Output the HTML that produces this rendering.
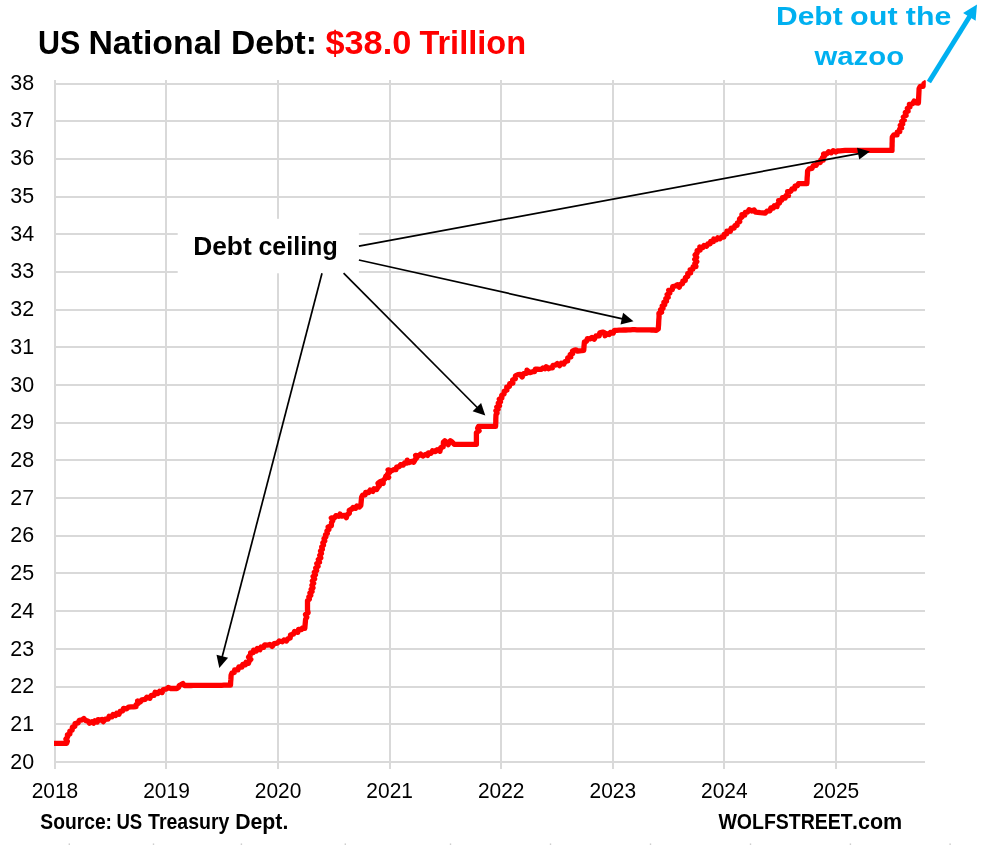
<!DOCTYPE html>
<html lang="en"><head><meta charset="utf-8"><title>US National Debt</title>
<style>
html,body{margin:0;padding:0;background:#fff;}
body{width:993px;height:845px;overflow:hidden;}
svg{display:block;}
text{font-family:"Liberation Sans",sans-serif;}
.ax{fill:#000;}
.b{font-weight:bold;}
</style></head><body>
<svg width="993" height="845" viewBox="0 0 993 845">
<rect width="993" height="845" fill="#fff"/>
<defs><clipPath id="cp"><rect x="52" y="70" width="873.8" height="700"/></clipPath></defs>
<g stroke="#d9d9d9" stroke-width="2" fill="none"><line x1="54" y1="762.0" x2="925" y2="762.0"/><line x1="54" y1="724.0" x2="925" y2="724.0"/><line x1="54" y1="687.0" x2="925" y2="687.0"/><line x1="54" y1="649.0" x2="925" y2="649.0"/><line x1="54" y1="611.0" x2="925" y2="611.0"/><line x1="54" y1="573.0" x2="925" y2="573.0"/><line x1="54" y1="536.0" x2="925" y2="536.0"/><line x1="54" y1="498.0" x2="925" y2="498.0"/><line x1="54" y1="460.0" x2="925" y2="460.0"/><line x1="54" y1="423.0" x2="925" y2="423.0"/><line x1="54" y1="385.0" x2="925" y2="385.0"/><line x1="54" y1="347.0" x2="925" y2="347.0"/><line x1="54" y1="310.0" x2="925" y2="310.0"/><line x1="54" y1="272.0" x2="925" y2="272.0"/><line x1="54" y1="234.0" x2="925" y2="234.0"/><line x1="54" y1="197.0" x2="925" y2="197.0"/><line x1="54" y1="159.0" x2="925" y2="159.0"/><line x1="54" y1="121.0" x2="925" y2="121.0"/><line x1="54" y1="84.0" x2="925" y2="84.0"/><line x1="55.0" y1="80" x2="55.0" y2="769"/><line x1="166.0" y1="80" x2="166.0" y2="769"/><line x1="278.0" y1="80" x2="278.0" y2="769"/><line x1="390.0" y1="80" x2="390.0" y2="769"/><line x1="501.0" y1="80" x2="501.0" y2="769"/><line x1="613.0" y1="80" x2="613.0" y2="769"/><line x1="724.0" y1="80" x2="724.0" y2="769"/><line x1="836.0" y1="80" x2="836.0" y2="769"/></g>
<g class="ax"><text transform="translate(10.30,768.80) scale(1.0121,1)" font-size="21.2">20</text><text transform="translate(10.30,731.07) scale(1.0121,1)" font-size="21.2">21</text><text transform="translate(10.30,693.34) scale(1.0121,1)" font-size="21.2">22</text><text transform="translate(10.30,655.61) scale(1.0121,1)" font-size="21.2">23</text><text transform="translate(10.30,617.88) scale(1.0121,1)" font-size="21.2">24</text><text transform="translate(10.30,580.15) scale(1.0121,1)" font-size="21.2">25</text><text transform="translate(10.30,542.42) scale(1.0121,1)" font-size="21.2">26</text><text transform="translate(10.30,504.69) scale(1.0121,1)" font-size="21.2">27</text><text transform="translate(10.30,466.96) scale(1.0121,1)" font-size="21.2">28</text><text transform="translate(10.30,429.23) scale(1.0121,1)" font-size="21.2">29</text><text transform="translate(10.30,391.50) scale(1.0121,1)" font-size="21.2">30</text><text transform="translate(10.30,353.77) scale(1.0121,1)" font-size="21.2">31</text><text transform="translate(10.30,316.04) scale(1.0121,1)" font-size="21.2">32</text><text transform="translate(10.30,278.31) scale(1.0121,1)" font-size="21.2">33</text><text transform="translate(10.30,240.58) scale(1.0121,1)" font-size="21.2">34</text><text transform="translate(10.30,202.85) scale(1.0121,1)" font-size="21.2">35</text><text transform="translate(10.30,165.12) scale(1.0121,1)" font-size="21.2">36</text><text transform="translate(10.30,127.39) scale(1.0121,1)" font-size="21.2">37</text><text transform="translate(10.30,89.66) scale(1.0121,1)" font-size="21.2">38</text></g>
<g class="ax"><text transform="translate(31.65,798.20) scale(0.9877,1)" font-size="21.2">2018</text><text transform="translate(143.22,798.20) scale(0.9877,1)" font-size="21.2">2019</text><text transform="translate(254.79,798.20) scale(0.9877,1)" font-size="21.2">2020</text><text transform="translate(366.36,798.20) scale(0.9877,1)" font-size="21.2">2021</text><text transform="translate(477.93,798.20) scale(0.9877,1)" font-size="21.2">2022</text><text transform="translate(589.50,798.20) scale(0.9877,1)" font-size="21.2">2023</text><text transform="translate(701.07,798.20) scale(0.9877,1)" font-size="21.2">2024</text><text transform="translate(812.64,798.20) scale(0.9877,1)" font-size="21.2">2025</text></g>
<polyline points="54.0,743.4 56.1,743.4 58.2,743.4 60.3,743.4 62.4,743.4 64.5,743.4 66.6,743.4 67.4,741.2 65.9,739.1 67.6,736.9 67.4,734.8 69.9,733.9 69.8,731.1 72.2,730.0 72.3,727.3 74.9,726.2 75.0,723.5 78.1,722.9 79.3,720.3 82.2,719.8 83.8,718.5 85.4,720.4 88.3,721.3 89.4,723.2 91.8,721.7 93.6,723.1 94.8,720.8 97.2,722.1 98.0,719.6 100.4,720.1 102.0,719.4 103.3,721.6 105.3,719.2 108.1,719.1 109.1,716.3 111.9,716.9 113.0,714.5 115.5,715.6 116.7,713.3 119.0,714.2 120.1,711.4 122.6,710.9 123.5,708.4 126.6,708.9 128.5,707.1 131.0,706.9 133.6,706.8 136.1,706.6 136.1,704.5 138.3,703.4 137.6,701.0 140.4,701.8 141.9,699.9 145.1,699.4 146.9,697.1 149.8,698.3 151.2,695.4 154.2,695.3 155.1,692.2 158.0,693.5 159.6,691.3 162.1,692.6 163.3,689.5 166.1,689.1 168.2,687.5 170.8,688.5 172.8,688.5 174.9,688.5 176.9,688.5 178.6,687.4 179.2,685.5 181.1,684.5 182.9,683.5 184.4,685.5 186.6,685.5 188.8,685.5 191.0,685.5 193.2,685.4 195.4,685.4 197.6,685.4 199.8,685.4 202.0,685.4 204.2,685.4 206.4,685.4 208.5,685.3 210.7,685.3 212.9,685.3 215.1,685.3 217.3,685.3 219.5,685.3 221.7,685.3 223.9,685.2 226.1,685.2 228.3,685.2 230.5,685.2 230.6,683.2 230.7,681.2 230.9,679.2 231.0,677.2 231.1,675.2 231.9,673.1 234.3,672.5 234.6,670.0 237.9,669.9 238.8,666.9 242.0,667.0 242.8,664.4 245.4,664.9 246.1,662.3 248.5,663.2 249.3,660.8 250.8,659.3 248.6,657.1 250.6,654.8 250.6,652.8 253.1,652.7 253.6,650.2 256.3,651.1 257.3,648.4 259.9,649.7 261.0,647.0 263.6,647.4 264.7,644.8 267.3,645.2 269.8,644.4 272.2,646.4 274.2,643.7 277.2,643.2 279.2,641.0 282.3,641.8 284.0,640.0 286.4,641.0 287.9,638.7 290.2,638.0 290.5,635.1 293.4,634.1 294.5,631.5 297.8,632.3 298.6,629.3 301.4,629.7 302.7,627.9 304.8,628.3 305.0,626.0 305.2,623.8 305.4,621.5 305.6,619.3 306.8,617.2 305.5,614.5 308.1,612.7 307.5,610.2 307.5,607.7 307.5,605.2 307.5,602.7 307.5,600.6 309.4,599.1 308.8,596.8 310.8,595.3 309.9,593.0 312.1,591.6 311.1,589.3 313.0,587.8 311.9,585.3 313.7,583.3 312.3,580.9 314.6,578.9 313.1,576.4 315.5,574.8 314.3,572.2 316.7,570.6 315.7,568.0 318.1,566.4 316.8,563.6 319.5,562.2 318.3,559.4 320.8,557.9 319.7,555.3 321.5,553.5 320.5,551.0 322.4,549.3 321.7,546.9 323.5,545.1 322.8,542.7 324.8,541.0 324.0,538.5 325.9,537.0 325.5,534.7 327.4,533.3 326.9,530.9 328.9,529.5 328.1,527.0 331.4,525.7 331.5,522.5 332.8,520.5 331.3,518.0 334.5,517.8 335.9,515.6 338.6,516.3 340.0,514.1 341.9,516.1 344.5,515.4 346.3,517.7 347.1,514.7 349.4,513.2 349.2,510.3 351.9,509.0 353.1,507.5 355.6,508.4 356.8,506.0 359.4,507.1 360.8,505.5 361.0,503.4 361.2,501.4 361.4,499.3 361.6,497.2 362.6,495.2 365.2,494.8 365.7,492.3 368.6,492.7 370.2,490.0 372.9,491.4 374.0,488.7 376.6,489.5 377.9,487.4 379.3,486.0 378.0,483.4 380.3,481.5 381.8,481.1 383.2,483.5 383.2,480.4 385.2,478.5 385.8,476.3 388.7,477.4 387.5,474.1 389.9,472.2 388.1,469.8 391.2,471.0 393.7,469.7 395.9,469.7 396.7,467.1 399.3,466.6 400.6,464.6 403.2,465.2 404.6,462.9 407.2,463.1 407.3,460.2 409.0,462.6 411.5,461.3 413.7,462.2 415.2,459.4 416.6,457.9 415.6,455.4 418.7,455.8 420.7,454.1 422.9,456.1 425.5,454.4 427.6,455.4 428.4,452.8 431.1,453.3 432.5,450.8 435.3,451.6 437.2,449.7 439.9,451.3 440.7,447.8 443.2,446.8 443.3,444.5 443.4,442.2 444.8,440.8 446.5,442.2 448.3,444.6 448.9,442.2 450.3,440.8 452.1,442.0 454.2,444.3 456.4,444.3 458.6,444.3 460.9,444.3 463.1,444.3 465.3,444.3 467.5,444.3 469.7,444.3 472.0,444.3 474.2,444.3 476.4,444.3 476.4,442.0 476.4,439.6 476.4,437.3 476.4,434.9 476.4,432.6 479.1,430.8 477.6,428.2 478.6,426.4 480.7,426.4 482.9,426.4 485.0,426.4 487.1,426.4 489.2,426.4 491.4,426.4 493.5,426.4 495.6,426.4 495.7,424.1 495.8,421.7 495.8,419.4 495.9,417.0 496.0,414.7 497.1,413.0 495.9,410.7 498.1,409.3 496.8,407.0 499.5,405.7 498.3,403.1 500.5,401.8 499.3,399.2 501.9,398.0 501.7,395.3 504.1,393.9 504.2,391.2 506.9,390.1 506.7,387.1 509.5,386.4 509.7,383.6 512.9,383.2 512.6,379.9 515.4,378.8 515.4,375.9 518.0,374.7 520.2,374.5 522.2,377.0 523.6,373.6 526.6,373.3 527.0,370.2 529.8,372.6 532.7,371.7 534.6,371.6 535.3,369.2 537.3,369.2 539.4,369.3 541.4,369.3 542.9,368.0 545.1,368.7 546.3,366.7 548.3,368.7 550.7,367.8 552.4,367.9 552.9,365.4 555.4,365.1 557.3,363.6 559.5,365.6 561.2,363.2 563.8,364.1 565.1,361.5 567.7,361.0 567.7,357.8 570.8,357.0 570.2,354.4 572.7,353.5 572.4,351.1 574.5,350.1 576.0,349.8 577.6,351.2 579.6,350.9 581.7,350.7 583.7,350.4 583.9,348.3 584.0,346.2 584.2,344.2 584.4,342.1 586.5,341.3 587.3,338.7 590.1,338.9 592.0,337.4 594.2,339.3 596.0,336.0 599.2,335.9 599.8,332.8 602.8,332.1 604.6,332.7 605.1,335.7 607.0,333.7 609.3,334.5 610.5,332.4 613.2,333.1 614.4,330.4 616.8,330.3 619.1,330.2 621.3,330.1 623.6,330.0 625.9,330.0 628.2,329.9 630.4,329.8 632.7,329.7 634.8,329.7 636.9,329.8 639.0,329.8 641.1,329.8 643.2,329.9 645.4,329.9 647.5,329.9 649.6,329.9 651.7,330.0 653.8,330.0 656.3,330.3 658.3,328.9 658.4,326.7 658.6,324.5 658.7,322.2 658.8,320.0 659.0,317.8 659.1,315.6 658.9,313.3 661.6,312.3 660.6,309.7 663.0,308.4 662.2,305.9 664.7,304.8 663.9,302.2 666.5,301.2 665.8,298.6 668.2,297.2 667.1,294.5 669.8,293.1 668.7,290.3 672.3,289.7 672.7,286.7 675.6,286.0 677.4,284.7 679.3,287.2 680.3,284.2 682.6,283.6 682.8,281.1 685.3,280.5 685.4,277.7 687.8,276.4 687.7,273.6 690.6,272.9 690.1,269.9 692.8,269.2 693.1,266.6 696.0,266.5 694.8,263.6 696.8,261.6 694.7,259.3 696.7,257.3 695.1,255.0 697.2,253.0 697.1,250.6 700.1,250.2 699.8,247.0 702.8,247.5 704.1,245.4 706.6,246.2 707.9,243.9 710.2,243.8 710.7,241.4 713.4,241.5 713.8,239.0 716.3,239.9 717.8,237.8 720.0,238.8 721.6,237.0 723.9,237.0 724.1,234.3 726.7,233.9 726.9,231.2 730.4,231.3 731.2,228.1 734.3,228.0 734.8,225.7 737.1,225.4 737.4,222.9 739.8,221.7 739.5,218.9 741.9,217.2 741.9,214.7 744.8,215.0 745.2,212.4 747.6,212.1 749.1,209.8 752.0,211.0 754.1,209.9 755.6,212.2 757.8,212.3 760.3,212.6 762.8,212.8 765.3,213.1 767.0,211.1 770.0,210.8 770.9,207.8 773.4,208.1 774.3,205.7 777.0,206.6 777.7,203.9 779.5,203.1 778.7,200.6 781.7,200.3 782.4,197.7 785.2,198.1 785.9,195.6 788.5,195.7 787.6,191.7 790.9,191.3 791.9,188.9 794.5,188.9 795.0,186.2 797.5,185.6 798.5,183.6 800.6,183.6 802.7,183.6 804.8,183.6 806.9,183.6 807.0,181.5 807.1,179.3 807.2,177.2 807.4,175.1 807.5,172.9 807.6,170.8 809.2,168.8 812.0,168.3 813.3,165.7 816.2,165.4 817.2,162.6 820.3,162.5 820.8,160.0 823.2,160.2 822.5,157.5 824.4,156.2 823.6,154.0 826.8,153.9 828.6,151.7 831.1,152.9 833.1,150.7 835.5,152.0 837.6,151.0 840.1,150.8 842.6,150.6 845.1,150.4 847.3,150.4 849.6,150.4 851.8,150.4 854.0,150.4 856.3,150.4 858.5,150.4 860.7,150.4 863.0,150.4 865.2,150.4 867.4,150.4 869.7,150.4 871.9,150.4 874.1,150.4 876.4,150.4 878.6,150.4 880.8,150.4 883.1,150.4 885.3,150.4 887.5,150.4 889.8,150.4 892.0,150.4 892.0,148.2 892.1,145.9 892.1,143.7 892.2,141.5 892.2,139.2 892.3,137.0 893.9,134.8 897.1,134.9 897.2,132.1 899.8,131.7 899.6,129.0 901.6,127.9 900.3,125.4 902.7,124.0 901.7,121.6 904.3,120.0 903.3,117.0 906.1,115.5 905.3,112.5 908.1,111.2 907.3,108.4 909.9,107.0 909.4,104.3 912.7,103.6 914.2,101.0 916.3,102.9 918.4,103.1 918.5,101.0 918.6,99.0 918.7,96.9 918.8,94.9 918.9,92.8 919.0,90.8 919.1,88.7 920.2,86.4 923.1,86.3 924.0,83.7 926.0,82.7 926.5,80.6" fill="none" stroke="#ff0000" stroke-width="5.3" stroke-linejoin="round" stroke-linecap="butt" clip-path="url(#cp)"/>
<rect x="177.7" y="218.8" width="181.2" height="54.5" fill="#fff"/>
<g>
<line x1="358.9" y1="246.2" x2="860.1" y2="153.3" stroke="#000" stroke-width="1.7"/><polygon points="869.9,151.5 859.2,159.6 857.0,147.8" fill="#000"/>
<line x1="358.9" y1="260.0" x2="623.7" y2="319.1" stroke="#000" stroke-width="1.7"/><polygon points="633.5,321.3 620.5,324.5 623.1,312.8" fill="#000"/>
<line x1="343.6" y1="273.2" x2="478.2" y2="408.5" stroke="#000" stroke-width="1.7"/><polygon points="485.3,415.6 472.6,411.3 481.1,402.9" fill="#000"/>
<line x1="322.0" y1="273.2" x2="221.8" y2="658.2" stroke="#000" stroke-width="1.7"/><polygon points="219.3,667.9 216.5,654.8 228.1,657.8" fill="#000"/>
</g>
<g class="b">
<text transform="translate(193.22,254.80) scale(1.0243,1)" font-size="25.7">Debt</text>
<text transform="translate(258.40,254.80) scale(0.9745,1)" font-size="25.7">ceiling</text>
<text transform="translate(37.97,53.50) scale(0.9040,1)" font-size="33.7">US</text>
<text transform="translate(88.41,53.50) scale(1.0046,1)" font-size="33.7">National</text>
<text transform="translate(230.93,53.50) scale(0.9984,1)" font-size="33.7">Debt:</text>
<text transform="translate(325.47,53.50) scale(1.0174,1)" font-size="33.7" fill="#ff0000">$38.0</text>
<text transform="translate(419.39,53.50) scale(0.9657,1)" font-size="33.7" fill="#ff0000">Trillion</text>
<text transform="translate(775.97,25.00) scale(1.1283,1)" font-size="26.6" fill="#00b0f0">Debt</text>
<text transform="translate(850.08,25.00) scale(1.1485,1)" font-size="26.6" fill="#00b0f0">out</text>
<text transform="translate(905.82,25.00) scale(1.1394,1)" font-size="26.6" fill="#00b0f0">the</text>
<text transform="translate(814.47,64.50) scale(1.1029,1)" font-size="26.6" fill="#00b0f0">wazoo</text>
<text transform="translate(40.32,828.60) scale(0.9086,1)" font-size="21.2">Source:</text>
<text transform="translate(116.38,828.60) scale(0.8776,1)" font-size="21.2">US</text>
<text transform="translate(148.06,828.60) scale(0.9207,1)" font-size="21.2">Treasury</text>
<text transform="translate(235.16,828.60) scale(1.0032,1)" font-size="21.2">Dept.</text>
<text transform="translate(718.45,828.50) scale(0.9201,1)" font-size="21.2">WOLFSTREET</text>
<text transform="translate(851.95,828.50) scale(1.0161,1)" font-size="21.2">.com</text>
</g>
<line x1="928.9" y1="82.0" x2="970.4" y2="15.2" stroke="#00b0f0" stroke-width="4.9"/><polygon points="977.0,4.6 975.6,20.8 963.1,13.0" fill="#00b0f0"/>
<g fill="#cfcfcf"><rect x="68.6" y="843.4" width="1.4" height="1.6"/><rect x="152.8" y="843.4" width="1.4" height="1.6"/><rect x="240.7" y="843.4" width="1.4" height="1.6"/><rect x="344.6" y="843.4" width="1.4" height="1.6"/><rect x="449.8" y="843.4" width="1.4" height="1.6"/><rect x="549.8" y="843.4" width="1.4" height="1.6"/><rect x="649.8" y="843.4" width="1.4" height="1.6"/><rect x="749.8" y="843.4" width="1.4" height="1.6"/><rect x="849.7" y="843.4" width="1.4" height="1.6"/><rect x="949.4" y="843.4" width="1.4" height="1.6"/></g>
</svg></body></html>
